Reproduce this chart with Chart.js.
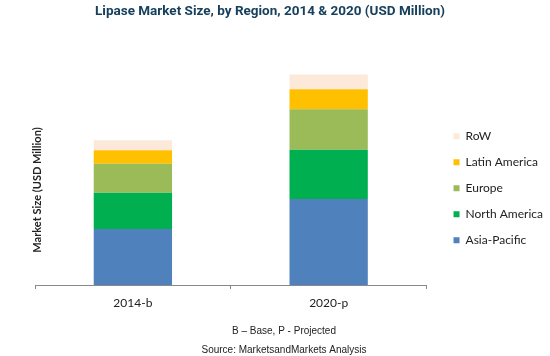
<!DOCTYPE html>
<html><head><meta charset="utf-8">
<script src="https://cdn.jsdelivr.net/npm/chart.js@4"></script>
<style>html,body{margin:0;padding:0;background:#fff}</style>
</head><body>
<canvas id="c" width="550" height="356"></canvas>
<script>
const categories = ['2014-b', '2020-p'];
const asiaPacific = [157, 241];
const northAmerica = [102, 138];
const europe = [81, 114];
const latinAmerica = [38, 56];
const restOfWorld = [28, 41];
const seriesNames = ['Asia-Pacific', 'North America', 'Europe', 'Latin America', 'RoW'];
const chartTitle = 'Lipase Market Size, by Region, 2014 & 2020 (USD Million)';
const yAxisTitle = 'Market Size (USD Million)';
const footNotes = ['B \u2013 Base, P - Projected', 'Source: MarketsandMarkets Analysis'];

const colors = ['#4F81BD', '#00B050', '#9BBB59', '#FFC000', '#FDE9D9'];
const seriesData = [asiaPacific, northAmerica, europe, latinAmerica, restOfWorld];

const boxOffsets = {
  id: 'boxOffsets',
  afterLayout(chart) {
    const lg = chart.legend;
    lg.left += 13; lg.right += 13; lg.top += 9.5; lg.bottom += 9.5;
    const sub = chart.boxes.find(b => b !== chart.titleBlock && b.options && b.options.text === footNotes);
    if (sub) { sub.left += 14; sub.right += 14; }
  }
};
const yTitlePlugin = {
  id: 'yTitlePlugin',
  afterDraw(chart) {
    const ctx = chart.ctx;
    ctx.save();
    ctx.translate(37.5, 190);
    ctx.rotate(-Math.PI / 2);
    ctx.font = 'bold 11px Lato';
    ctx.fillStyle = '#222';
    ctx.textAlign = 'center';
    ctx.textBaseline = 'middle';
    ctx.fillText(yAxisTitle, 0, 0);
    ctx.restore();
  }
};

new Chart(document.getElementById('c'), {
  type: 'bar',
  data: {
    labels: categories,
    datasets: seriesData.map((d, i) => ({
      label: seriesNames[i],
      data: d,
      backgroundColor: colors[i],
      borderWidth: 0,
      barPercentage: 0.4,
      categoryPercentage: 1.0
    }))
  },
  options: {
    responsive: false,
    animation: false,
    devicePixelRatio: 1,
    layout: { padding: { left: 0, right: 10, top: 0, bottom: -1.5 } },
    scales: {
      x: {
        stacked: true,
        grid: { display: true, drawOnChartArea: false, drawTicks: true, tickLength: 4, color: '#888' },
        border: { display: true, color: '#888', width: 1 },
        ticks: { font: { family: 'Lato', size: 12 }, color: '#222', padding: 7 }
      },
      y: {
        stacked: true,
        min: 0,
        max: 700,
        grid: { display: false, drawTicks: false },
        border: { display: false },
        ticks: { display: false },
        afterFit: s => { s.width = 35; }
      }
    },
    plugins: {
      legend: {
        position: 'right',
        reverse: true,
        labels: { boxWidth: 6, boxHeight: 6, padding: 14, font: { family: 'Lato', size: 12 }, color: '#222' }
      },
      title: {
        display: true,
        text: chartTitle,
        color: '#17405D',
        font: { family: 'Roboto', size: 13.5, weight: 'bold' },
        padding: { top: 3.9, bottom: 15.3 }
      },
      subtitle: {
        display: true,
        position: 'bottom',
        text: footNotes,
        color: '#222',
        font: { family: 'Liberation Sans', size: 10, lineHeight: 1.9 },
        padding: { top: 4.5, bottom: -2.4 }
      },
      tooltip: { enabled: false }
    }
  },
  plugins: [boxOffsets, yTitlePlugin]
});
</script>
</body></html>
